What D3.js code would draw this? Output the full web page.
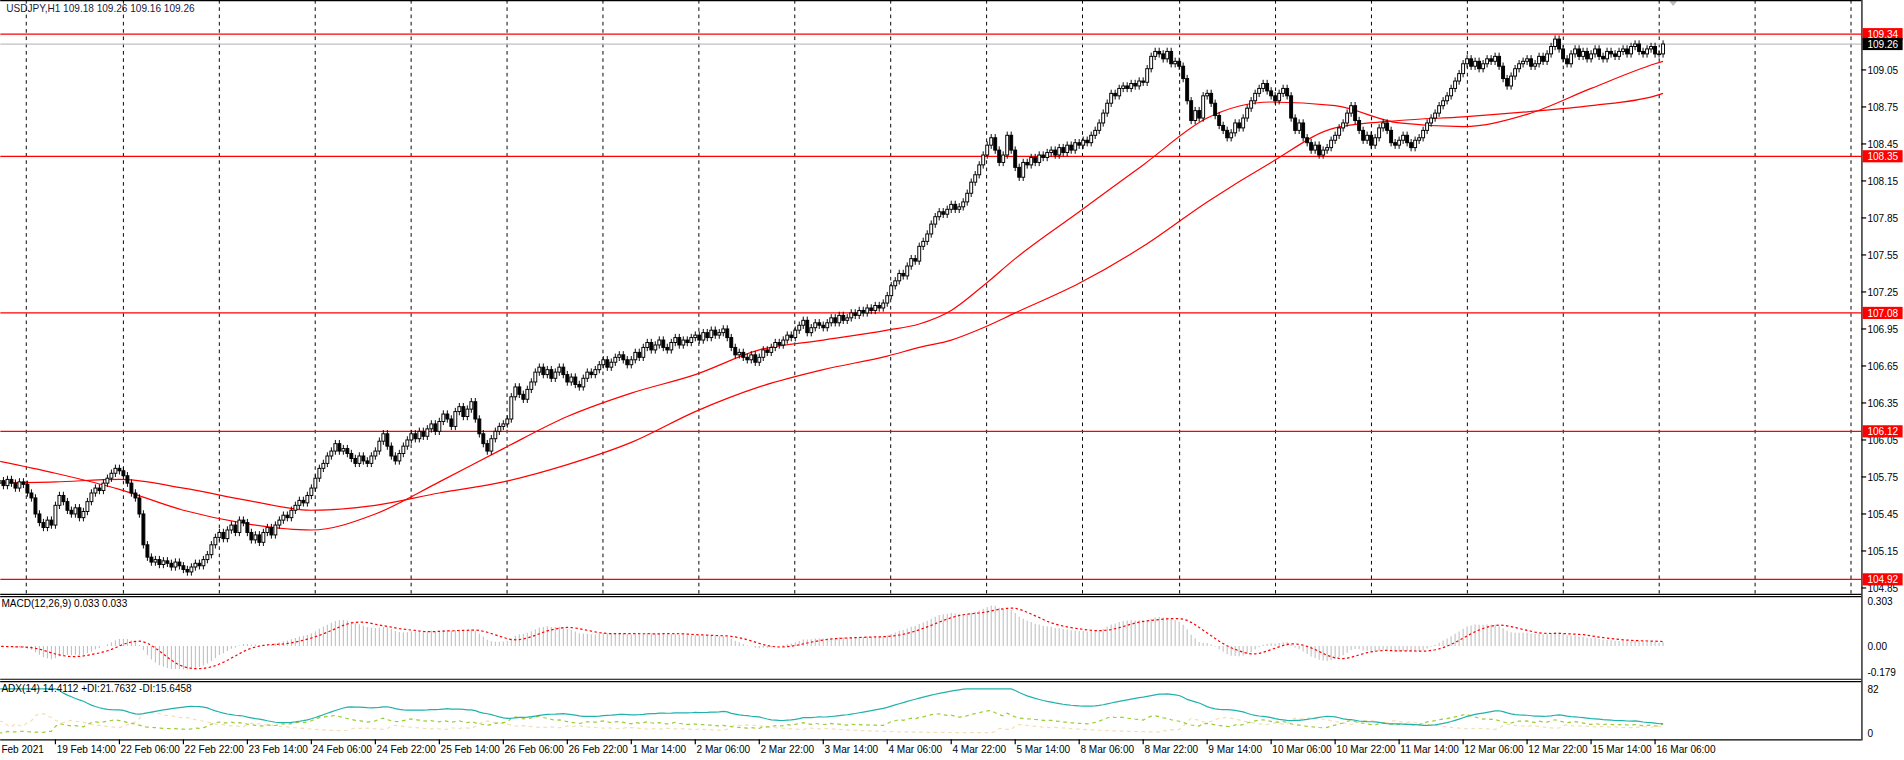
<!DOCTYPE html>
<html><head><meta charset="utf-8">
<script src="https://cdnjs.cloudflare.com/ajax/libs/d3/7.8.5/d3.min.js"></script>
<style>html,body{margin:0;padding:0;background:#fff;overflow:hidden}svg{display:block}text{font-family:"Liberation Sans",Arial,sans-serif}</style>
</head><body>
<svg id="c" width="1904" height="760" viewBox="0 0 1568 626"></svg>
<script>
// hourly closes, starting 18 Feb 22:00
const closes = [
105.74,105.70,105.72,105.68,105.73,105.70,105.66,105.71,105.69,105.62,105.58,105.45,105.38,105.34,105.40,105.36,
105.52,105.60,105.55,105.48,105.45,105.50,105.42,105.47,105.55,105.62,105.66,105.64,105.70,105.74,105.78,105.82,
105.80,105.76,105.70,105.62,105.58,105.45,105.20,105.10,105.06,105.08,105.04,105.07,105.05,105.02,105.06,105.03,
105.00,104.98,105.02,105.05,105.03,105.08,105.12,105.20,105.26,105.30,105.25,105.32,105.36,105.30,105.40,105.38,
105.30,105.24,105.28,105.22,105.30,105.34,105.28,105.36,105.40,105.44,105.42,105.48,105.52,105.56,105.54,105.60,
105.66,105.74,105.82,105.86,105.92,105.96,106.02,105.96,105.98,105.94,105.90,105.86,105.92,105.88,105.86,105.92,
105.96,106.04,106.10,106.00,105.92,105.88,105.94,106.00,106.05,106.10,106.06,106.12,106.08,106.14,106.18,106.12,
106.20,106.26,106.22,106.16,106.28,106.32,106.24,106.30,106.36,106.22,106.10,106.02,105.96,106.06,106.12,106.16,
106.18,106.22,106.40,106.48,106.42,106.38,106.46,106.52,106.60,106.64,106.58,106.62,106.55,106.60,106.64,106.58,
106.52,106.56,106.50,106.48,106.55,106.60,106.58,106.62,106.66,106.70,106.64,106.68,106.72,106.74,106.70,106.66,
106.70,106.76,106.72,106.80,106.84,106.78,106.82,106.86,106.80,106.78,106.84,106.88,106.82,106.86,106.84,106.88,
106.90,106.86,106.92,106.88,106.94,106.90,106.92,106.95,106.88,106.80,106.74,106.76,106.72,106.70,106.74,106.68,
106.72,106.78,106.76,106.80,106.84,106.82,106.86,106.90,106.88,106.94,106.98,107.02,106.92,106.96,107.00,106.98,
106.96,107.00,107.04,107.00,107.06,107.02,107.04,107.08,107.06,107.10,107.08,107.12,107.10,107.14,107.12,107.16,
107.22,107.30,107.34,107.40,107.38,107.46,107.52,107.50,107.62,107.66,107.72,107.80,107.86,107.90,107.88,107.92,
107.96,107.92,107.94,107.98,108.05,108.14,108.20,108.28,108.36,108.44,108.50,108.40,108.30,108.36,108.52,108.40,
108.26,108.18,108.30,108.28,108.34,108.30,108.36,108.34,108.38,108.40,108.36,108.42,108.38,108.44,108.40,108.46,
108.44,108.48,108.46,108.52,108.56,108.62,108.70,108.78,108.86,108.84,108.90,108.92,108.90,108.94,108.92,108.96,
108.95,109.06,109.16,109.20,109.18,109.14,109.20,109.10,109.12,109.08,108.98,108.80,108.64,108.72,108.66,108.84,
108.86,108.78,108.68,108.60,108.56,108.50,108.54,108.62,108.58,108.66,108.74,108.80,108.86,108.90,108.94,108.88,
108.84,108.80,108.86,108.90,108.84,108.66,108.56,108.62,108.50,108.46,108.40,108.44,108.36,108.40,108.42,108.48,
108.52,108.58,108.62,108.70,108.76,108.64,108.56,108.48,108.52,108.44,108.50,108.58,108.62,108.56,108.46,108.44,
108.48,108.52,108.46,108.42,108.48,108.50,108.56,108.62,108.66,108.70,108.76,108.80,108.84,108.90,108.96,109.02,
109.10,109.14,109.08,109.12,109.06,109.10,109.14,109.12,109.16,109.08,108.98,108.92,109.00,109.06,109.10,109.12,
109.14,109.08,109.10,109.16,109.12,109.18,109.24,109.30,109.22,109.14,109.10,109.18,109.22,109.16,109.20,109.14,
109.18,109.22,109.16,109.14,109.20,109.18,109.16,109.20,109.22,109.18,109.24,109.26,109.20,109.18,109.22,109.24,
109.18,109.18,109.26];
const firstOpen = 105.76;
const wick = 0.03;
// moving averages sampled every 16 bars plus last bar
const maIdx = [0,16,32,48,64,80,96,112,128,144,160,176,192,208,224,232,240,248,256,272,288,304,320,336,352,368,384,400,416,418];
const maFast = [105.89,105.78,105.65,105.48,105.37,105.32,105.45,105.71,105.98,106.24,106.43,106.58,106.78,106.86,106.94,106.99,107.10,107.30,107.52,107.90,108.28,108.66,108.79,108.76,108.62,108.59,108.69,108.90,109.10,109.12];
const maSlow = [105.70,105.71,105.73,105.66,105.56,105.48,105.52,105.62,105.71,105.85,106.03,106.28,106.48,106.62,106.73,106.80,106.86,106.96,107.08,107.32,107.62,107.98,108.30,108.58,108.64,108.67,108.71,108.76,108.84,108.86];
const priceTicks = [109.05,108.75,108.45,108.15,107.85,107.55,107.25,106.95,106.65,106.35,106.05,105.75,105.45,105.15,104.85];
const levels = [109.34,108.35,107.08,106.12,104.92];
const bid = 109.26;
const timeLabels = ["18 Feb 2021","19 Feb 14:00","22 Feb 06:00","22 Feb 22:00","23 Feb 14:00","24 Feb 06:00","24 Feb 22:00","25 Feb 14:00","26 Feb 06:00","26 Feb 22:00","1 Mar 14:00","2 Mar 06:00","2 Mar 22:00","3 Mar 14:00","4 Mar 06:00","4 Mar 22:00","5 Mar 14:00","8 Mar 06:00","8 Mar 22:00","9 Mar 14:00","10 Mar 06:00","10 Mar 22:00","11 Mar 14:00","12 Mar 06:00","12 Mar 22:00","15 Mar 14:00","16 Mar 06:00"];

const svg = d3.select("#c");
const FS = 8.3;
const bars = closes.map((c,i)=>{const o=i?closes[i-1]:firstOpen;return {i,o,c,h:Math.max(o,c)+wick,l:Math.min(o,c)-wick};});
const RX = 1533;
const x = d3.scaleLinear().domain([0,418]).range([-7.2,-7.2+418*3.294]);
const y = d3.scaleLinear().domain([109.05,104.85]).range([57.6,484.3]);

svg.append("clipPath").attr("id","cm").append("rect").attr("x",0).attr("y",0).attr("width",RX).attr("height",489);
svg.append("clipPath").attr("id","cs").append("rect").attr("x",0).attr("y",492).attr("width",RX).attr("height",117);
const main = svg.append("g").attr("clip-path","url(#cm)");

for(let k=0;k<20;k++){const gx=Math.round(21.4+79.1*k)+0.5;
  main.append("line").attr("x1",gx).attr("x2",gx).attr("y1",0).attr("y2",489).attr("stroke","#000").attr("stroke-width",0.8).attr("stroke-dasharray","3,3");}
levels.forEach(v=>main.append("line").attr("x1",0).attr("x2",RX).attr("y1",y(v)).attr("y2",y(v)).attr("stroke","#f00").attr("stroke-width",1));
main.append("line").attr("x1",0).attr("x2",RX).attr("y1",y(bid)).attr("y2",y(bid)).attr("stroke","#c0c0c0").attr("stroke-width",1);
const maLine = arr => d3.line().curve(d3.curveMonotoneX).x((d,j)=>x(maIdx[j])).y(d=>y(d))(arr);
[maFast,maSlow].forEach(a=>main.append("path").attr("d",maLine(a)).attr("fill","none").attr("stroke","#f00").attr("stroke-width",1));
const bw=2.4;
const cg = main.append("g");
bars.forEach(b=>{
  const cx=x(b.i);
  cg.append("line").attr("x1",cx).attr("x2",cx).attr("y1",y(b.h)).attr("y2",y(b.l)).attr("stroke","#000").attr("stroke-width",0.8);
  const top=y(Math.max(b.o,b.c)), bot=y(Math.min(b.o,b.c));
  cg.append("rect").attr("x",cx-bw/2).attr("y",top).attr("width",bw).attr("height",Math.max(bot-top,0.6))
    .attr("fill",b.c>=b.o?"#fff":"#000").attr("stroke","#000").attr("stroke-width",0.8);
});
svg.append("path").attr("d","M1374,0 L1382,0 L1378,5 Z").attr("fill","#bbb");

svg.append("text").attr("x",5).attr("y",10).attr("font-size",FS).attr("fill","#1a1a40").text("USDJPY,H1  109.18 109.26 109.16 109.26");

const bl=(x1,y1,x2,y2)=>svg.append("line").attr("x1",x1).attr("y1",y1).attr("x2",x2).attr("y2",y2).attr("stroke","#000").attr("stroke-width",1);
bl(0,0.5,RX,0.5); bl(RX+0.5,0,RX+0.5,610);
bl(0,489.5,RX,489.5); bl(0,491.5,RX,491.5); bl(0,559.5,RX,559.5); bl(0,561.5,RX,561.5); bl(0,609.5,RX,609.5);

priceTicks.forEach(v=>{svg.append("line").attr("x1",RX).attr("x2",RX+4).attr("y1",y(v)).attr("y2",y(v)).attr("stroke","#000");
  svg.append("text").attr("x",RX+5).attr("y",y(v)+3).attr("font-size",FS).attr("fill","#000").text(v.toFixed(2));});
const tag=(v,fill)=>{svg.append("rect").attr("x",RX+1).attr("y",y(v)-5).attr("width",33).attr("height",10).attr("fill",fill);
  svg.append("text").attr("x",RX+5).attr("y",y(v)+3).attr("font-size",FS).attr("fill","#fff").text(v.toFixed(2));};
levels.forEach(v=>tag(v,"#f00")); tag(bid,"#000");

timeLabels.forEach((t,k)=>{const tx=x(16*k);
  svg.append("line").attr("x1",tx).attr("x2",tx).attr("y1",609).attr("y2",613).attr("stroke","#000");
  svg.append("text").attr("x",k===0?1:tx+1).attr("y",620).attr("font-size",FS).attr("fill","#000").text(k===0?"Feb 2021":t);});

const ema=(arr,p)=>{const k=2/(p+1);let e=arr[0];return arr.map(v=>(e=v*k+e*(1-k)));};
const e12=ema(closes,12), e26=ema(closes,26);
const macd=closes.map((c,i)=>e12[i]-e26[i]);
const sig=macd.map((v,i)=>d3.mean(macd.slice(Math.max(0,i-8),i+1)));
const ym=d3.scaleLinear().domain([-0.179,0.303]).range([553.6,495.5]);
const sub=svg.append("g").attr("clip-path","url(#cs)");
macd.forEach((v,i)=>sub.append("line").attr("x1",x(i)).attr("x2",x(i)).attr("y1",ym(0)).attr("y2",ym(v)).attr("stroke","#c0c0c0").attr("stroke-width",0.9));
sub.append("path").attr("d",d3.line().x((d,i)=>x(i)).y(d=>ym(d))(sig)).attr("fill","none").attr("stroke","#f00").attr("stroke-width",1).attr("stroke-dasharray","2,2");
svg.append("text").attr("x",1).attr("y",500).attr("font-size",FS).attr("fill","#000").text("MACD(12,26,9) 0.033 0.033");
[[0.303,"0.303"],[0,"0.00"],[-0.179,"-0.179"]].forEach(([v,t])=>svg.append("text").attr("x",RX+5).attr("y",ym(v)+3).attr("font-size",FS).text(t));

const P=14;let trS=0,pS=0,mS=0,adx=0;const pdi=[],mdi=[],adxA=[];
bars.forEach((b,i)=>{
  if(i===0){pdi.push(20);mdi.push(20);adxA.push(20);return;}
  const p=bars[i-1];const up=b.h-p.h, dn=p.l-b.l;
  const pdm=(up>dn&&up>0)?up:0, mdm=(dn>up&&dn>0)?dn:0;
  const tr=Math.max(b.h-b.l,Math.abs(b.h-p.c),Math.abs(b.l-p.c));
  trS=trS-trS/P+tr; pS=pS-pS/P+pdm; mS=mS-mS/P+mdm;
  const pd=100*pS/trS, md=100*mS/trS; const dx=(pd+md)?100*Math.abs(pd-md)/(pd+md):0;
  adx=i===1?dx:(adx*(P-1)+dx)/P;
  pdi.push(pd);mdi.push(md);adxA.push(adx);
});
const ya=d3.scaleLinear().domain([0,82]).range([603.7,567.5]);
const al=d3.line().x((d,i)=>x(i)).y(d=>ya(Math.min(d,82)));
sub.append("path").attr("d",al(mdi)).attr("fill","none").attr("stroke","#f5deb3").attr("stroke-width",1).attr("stroke-dasharray","3,3");
sub.append("path").attr("d",al(pdi)).attr("fill","none").attr("stroke","#9acd32").attr("stroke-width",1).attr("stroke-dasharray","3,3");
sub.append("path").attr("d",al(adxA)).attr("fill","none").attr("stroke","#20b2aa").attr("stroke-width",1);
svg.append("text").attr("x",1).attr("y",570).attr("font-size",FS).attr("fill","#000").text("ADX(14) 14.4112 +DI:21.7632 -DI:15.6458");
[[82,"82"],[0,"0"]].forEach(([v,t])=>svg.append("text").attr("x",RX+5).attr("y",ya(v)+3).attr("font-size",FS).text(t));
</script></body></html>
